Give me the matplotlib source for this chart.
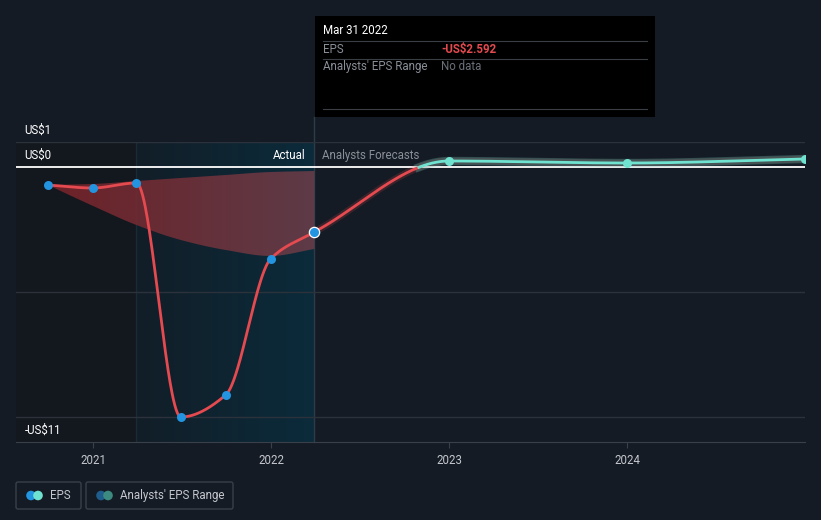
## EPS history + analyst forecast chart (dark theme)
import numpy as np
import pandas as pd
import matplotlib
matplotlib.use("Agg")
import matplotlib.pyplot as plt
from matplotlib.patches import Rectangle, FancyBboxPatch, Circle, Polygon
from matplotlib.transforms import IdentityTransform, blended_transform_factory, offset_copy

######## DATA ########
actual_dates = ["2020-09-30", "2020-12-31", "2021-03-31", "2021-06-30",
                "2021-09-30", "2021-12-31", "2022-03-31"]
actual_eps = [-0.72, -0.84, -0.64, -10.0, -9.12, -3.68, -2.592]

forecast_dates = ["2022-03-31", "2023-01-01", "2024-01-01", "2025-01-01"]
forecast_eps = [-2.592, 0.24, 0.16, 0.32]

# past analyst range (shaded red band)
range_dates = ["2020-09-30", "2020-12-31", "2021-03-31", "2021-06-30",
               "2021-09-30", "2021-12-31", "2022-03-31"]
range_low = [-0.72, -1.55, -2.32, -2.92, -3.32, -3.56, -3.28]
range_high = [-0.72, -0.68, -0.56, -0.44, -0.32, -0.20, -0.16]

year_ticks = [2021, 2022, 2023, 2024]
y_labels = {1: "US$1", 0: "US$0", -11: "-US$11"}
grid_vals = [1, -5, -10]

######## COLOURS ########
BG = "#151b24"
RED = "#e44a4f"
TEAL = "#6fe3d0"
BLUE = "#2394df"
GRID = "#2c323c"
TXT = "#c4c8ce"
GREY = "#8a8f98"

W, H = 821, 520


def to_year(dates):
    """decimal year from date strings"""
    d = pd.to_datetime(pd.Series(dates))
    start = pd.to_datetime(d.dt.year.astype(str) + "-01-01")
    days = np.where(d.dt.is_leap_year, 366, 365)
    return (d.dt.year + (d - start).dt.days / days).to_numpy(dtype=float)


def smooth(x, y, n=400):
    """monotone cubic (Fritsch-Carlson) curve through the points, for drawing"""
    x = np.asarray(x, float)
    y = np.asarray(y, float)
    h = np.diff(x)
    d = np.diff(y) / h
    m = np.zeros_like(y)
    for k in range(1, len(y) - 1):
        if d[k - 1] * d[k] > 0:
            w1 = 2 * h[k] + h[k - 1]
            w2 = h[k] + 2 * h[k - 1]
            m[k] = (w1 + w2) / (w1 / d[k - 1] + w2 / d[k])
    m[0] = d[0]
    m[-1] = d[-1]
    xs = np.linspace(x[0], x[-1], n)
    idx = np.clip(np.searchsorted(x, xs) - 1, 0, len(x) - 2)
    t = (xs - x[idx]) / h[idx]
    h00 = 2 * t**3 - 3 * t**2 + 1
    h10 = t**3 - 2 * t**2 + t
    h01 = -2 * t**3 + 3 * t**2
    h11 = t**3 - t**2
    ys = h00 * y[idx] + h10 * h[idx] * m[idx] + h01 * y[idx + 1] + h11 * h[idx] * m[idx + 1]
    return xs, ys


def fx(px):
    return px / W


def fy(py):
    return 1 - py / H


ax_x = to_year(actual_dates)
fc_x = to_year(forecast_dates)
rg_x = to_year(range_dates)

plt.rcParams["font.family"] = ["Roboto", "DejaVu Sans"]
fig = plt.figure(figsize=(W / 100, H / 100), dpi=100, facecolor=BG)
ax = fig.add_axes([fx(16), fy(442), fx(805) - fx(16), fy(142) - fy(442)])
ax.set_facecolor(BG)
ax.set_xlim(2020.567, 2025.0)
ax.set_ylim(-11, 1)

# shaded regions: darker past, teal "last year" window
ax.axvspan(ax.get_xlim()[0], ax_x[2], color="#13171e", zorder=0, lw=0)
grad = np.linspace(0, 1, 256).reshape(1, -1)
c0 = np.array([0x12, 0x1e, 0x28]) / 255
c1 = np.array([0x0b, 0x2b, 0x3b]) / 255
img = c0[None, None, :] * (1 - grad[..., None]) + c1[None, None, :] * grad[..., None]
ax.imshow(img, extent=[ax_x[2], ax_x[-1], -11, 1], aspect="auto", zorder=0.5,
          interpolation="bilinear")
ax.axvline(ax_x[2], color="#1b2b35", lw=1, zorder=0.6)
ax.axvline(ax_x[-1], color="#2b3d48", lw=1, ymin=0, ymax=(442 - 117) / 300,
           clip_on=False, zorder=0.6)

# gridlines
for g in grid_vals:
    ax.axhline(g, color=GRID, lw=1, zorder=1)
ax.axhline(0, color="white", lw=1.3, zorder=2)

# y labels above their gridlines
lab_tr = offset_copy(blended_transform_factory(ax.transAxes, ax.transData),
                     fig=fig, x=0, y=5, units="dots")
for v, s in y_labels.items():
    ax.text(0.011, v, s, transform=lab_tr, color="white", fontsize=8.3,
            va="bottom", ha="left", zorder=5)

data_tr = offset_copy(ax.transData, fig=fig, x=0, y=5, units="dots")
ax.text(ax_x[-1] - 0.05, 0, "Actual", transform=data_tr, color="white",
        fontsize=8.3, ha="right", va="bottom", zorder=5)
ax.text(ax_x[-1] + 0.045, 0, "Analysts Forecasts", transform=data_tr,
        color=GREY, fontsize=8.3, ha="left", va="bottom", zorder=5)

# analyst range band with red gradient
bx, blo = smooth(rg_x, range_low)
_, bhi = smooth(rg_x, range_high)
poly = Polygon(np.column_stack([np.r_[bx, bx[::-1]], np.r_[bhi, blo[::-1]]]),
               closed=True, facecolor="none", edgecolor="none")
ax.add_patch(poly)
r0 = np.array([0x74, 0x22, 0x28]) / 255
r1 = np.array([0x62, 0x3c, 0x48]) / 255
rimg = r0[None, None, :] * (1 - grad[..., None]) + r1[None, None, :] * grad[..., None]
band = ax.imshow(rimg, extent=[rg_x[0], rg_x[-1], -4, 0], aspect="auto",
                 zorder=2.5, interpolation="bilinear", alpha=0.95)
band.set_clip_path(poly)

# EPS actual line
sx, sy = smooth(ax_x, actual_eps)
ax.plot(sx, sy, color=RED, lw=2, zorder=3, solid_capstyle="round")

# forecast line, red below zero, teal above
fx_s, fy_s = smooth(fc_x, forecast_eps, n=800)
ax.plot(fx_s, fy_s, color=RED, lw=5, alpha=0.18, zorder=2.8)
neg = np.where(fy_s <= 0.02, fy_s, np.nan)
pos = np.where(fy_s >= -0.02, fy_s, np.nan)
ax.plot(fx_s, pos, color=TEAL, lw=6, alpha=0.25, zorder=2.8)
ax.plot(fx_s, neg, color=RED, lw=2, zorder=3)
ax.plot(fx_s, pos, color=TEAL, lw=2, zorder=3)

# points
ax.scatter(ax_x[:-1], actual_eps[:-1], s=42, color=BLUE, zorder=4, lw=0)
ax.scatter(ax_x[-1:], actual_eps[-1:], s=55, color=BLUE, edgecolor="white",
           lw=0.9, zorder=4)
ax.scatter(fc_x[1:], forecast_eps[1:], s=42, color=TEAL, zorder=4, lw=0)

# axes styling
for sp in ["top", "left", "right"]:
    ax.spines[sp].set_visible(False)
ax.spines["bottom"].set_color("#3a404a")
ax.set_yticks([])
ax.set_xticks(year_ticks)
ax.set_xticklabels([str(y) for y in year_ticks])
ax.tick_params(axis="x", colors="#3a404a", length=4, labelcolor=TXT,
               labelsize=8.3, pad=5)

# tooltip box
fig.patches.append(Rectangle((fx(315), fy(117)), fx(655) - fx(315), fy(16) - fy(117),
                             transform=fig.transFigure, facecolor="black",
                             edgecolor="none", zorder=10))
for ly in [41.5, 58.5, 109]:
    fig.lines.append(plt.Line2D([fx(323), fx(647)], [fy(ly), fy(ly)],
                                transform=fig.transFigure, color="#3a3e45",
                                lw=0.8, zorder=11))
fig.text(fx(323), fy(31), "Mar 31 2022", color="white", fontsize=8.3,
         va="center", zorder=12)
fig.text(fx(323), fy(49.5), "EPS", color=GREY, fontsize=8.3, va="center", zorder=12)
fig.text(fx(441), fy(49.5), "-US$%.3f" % abs(actual_eps[-1]), color=RED,
         fontsize=8.3, va="center", fontweight="bold", zorder=12)
fig.text(fx(323), fy(66.5), "Analysts' EPS Range", color=GREY, fontsize=8.3,
         va="center", zorder=12)
fig.text(fx(441), fy(66.5), "No data", color="#6b7078", fontsize=8.3,
         va="center", zorder=12)

# legend
ident = IdentityTransform()
legend_items = [(16, 81, "EPS", BLUE, TEAL), (86, 233, "Analysts' EPS Range", "#1f5d8c", "#3d8a80")]
for x0, x1, lab, ca, cb in legend_items:
    fig.patches.append(FancyBboxPatch((x0, H - 509), x1 - x0, 27,
                                      boxstyle="round,pad=0,rounding_size=2",
                                      transform=ident, facecolor="none",
                                      edgecolor="#3a3f48", lw=1))
    fig.patches.append(Circle((x0 + 15, H - 495.5), 4.8, transform=ident,
                              facecolor=ca, edgecolor="none", zorder=5))
    fig.patches.append(Circle((x0 + 22, H - 495.5), 4.8, transform=ident,
                              facecolor=cb, edgecolor="none", zorder=6))
    fig.text(fx(x0 + 34), fy(495.5), lab, color=TXT, fontsize=8.3, va="center")

fig.savefig("out.png", dpi=100, facecolor=BG)
